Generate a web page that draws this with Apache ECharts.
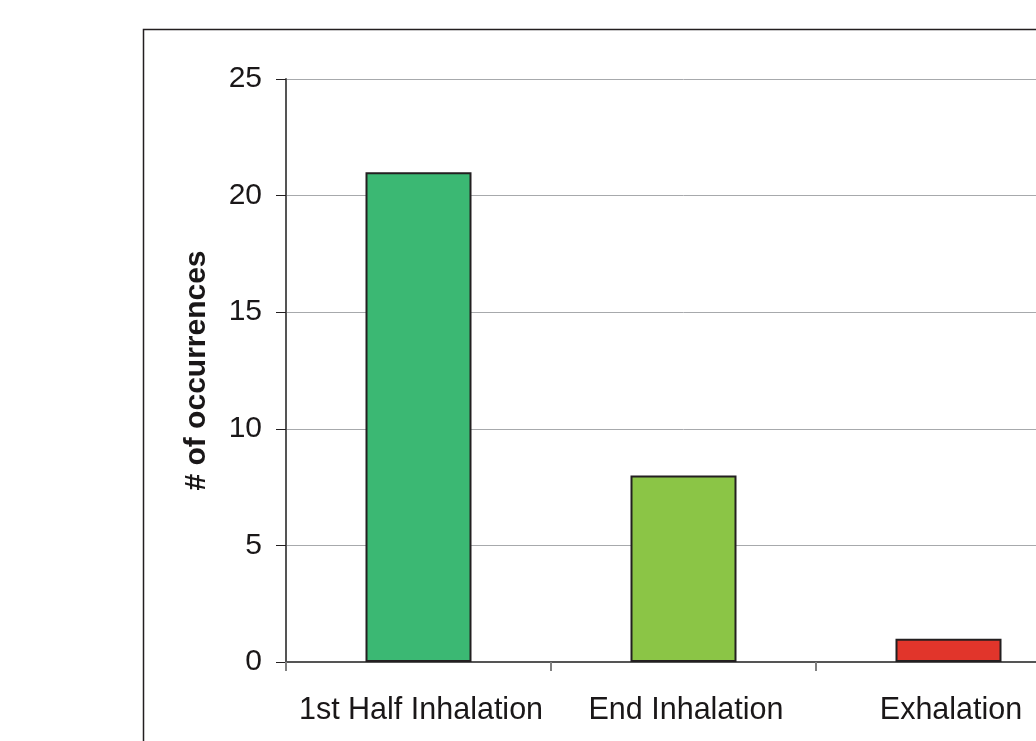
<!DOCTYPE html>
<html>
<head>
<meta charset="utf-8">
<script src="https://cdn.jsdelivr.net/npm/echarts@6/dist/echarts.min.js"></script>
<style>
html,body{margin:0;padding:0;background:#fff;overflow:hidden;width:1036px;height:741px;}
#chart{width:1100px;height:741px;}
</style>
</head>
<body>
<div id="chart"></div>
<script>
const categories = ['1st Half Inhalation', 'End Inhalation', 'Exhalation'];
const values = [21, 8, 1];
const barColors = ['#3bb873', '#8bc546', '#e1352b'];
const yAxisTitle = '# of occurrences';

const chart = echarts.init(document.getElementById('chart'), null, {renderer: 'canvas'});
const font = '"Liberation Sans", Arial, sans-serif';
chart.setOption({
  animation: false,
  backgroundColor: '#ffffff',
  graphic: [{
    type: 'rect',
    shape: {x: 143.5, y: 29.5, width: 1000, height: 800},
    style: {fill: 'none', stroke: '#231f20', lineWidth: 1.5},
    silent: true
  }],
  grid: {left: 286, top: 79, height: 583, width: 795, containLabel: false, outerBoundsMode: 'none'},
  xAxis: {
    type: 'category',
    data: categories,
    axisLine: {lineStyle: {color: '#555555', width: 2}},
    axisTick: {show: true, alignWithLabel: false, length: 9, lineStyle: {color: '#808080', width: 2}},
    axisLabel: {color: '#1a1718', fontSize: 30.5, fontFamily: font, margin: 33, interval: 0, padding: [0, 0, 0, 5]}
  },
  yAxis: {
    type: 'value',
    min: 0, max: 25, interval: 5,
    name: yAxisTitle,
    nameLocation: 'middle',
    nameGap: 74,
    nameTextStyle: {color: '#1a1718', fontSize: 30, fontWeight: 'bold', fontFamily: font},
    axisLine: {show: true, lineStyle: {color: '#555555', width: 2}},
    axisTick: {show: true, length: 10, lineStyle: {color: '#231f20', width: 1}},
    axisLabel: {color: '#1a1718', fontSize: 30, fontFamily: font, margin: 24},
    splitLine: {show: true, lineStyle: {color: '#a7a9ac', width: 1}}
  },
  series: [{
    type: 'bar',
    data: values.map((v, i) => ({value: v, itemStyle: {color: barColors[i]}})),
    barCategoryGap: '60%',
    itemStyle: {borderColor: '#231f20', borderWidth: 2}
  }]
});
</script>
</body>
</html>
